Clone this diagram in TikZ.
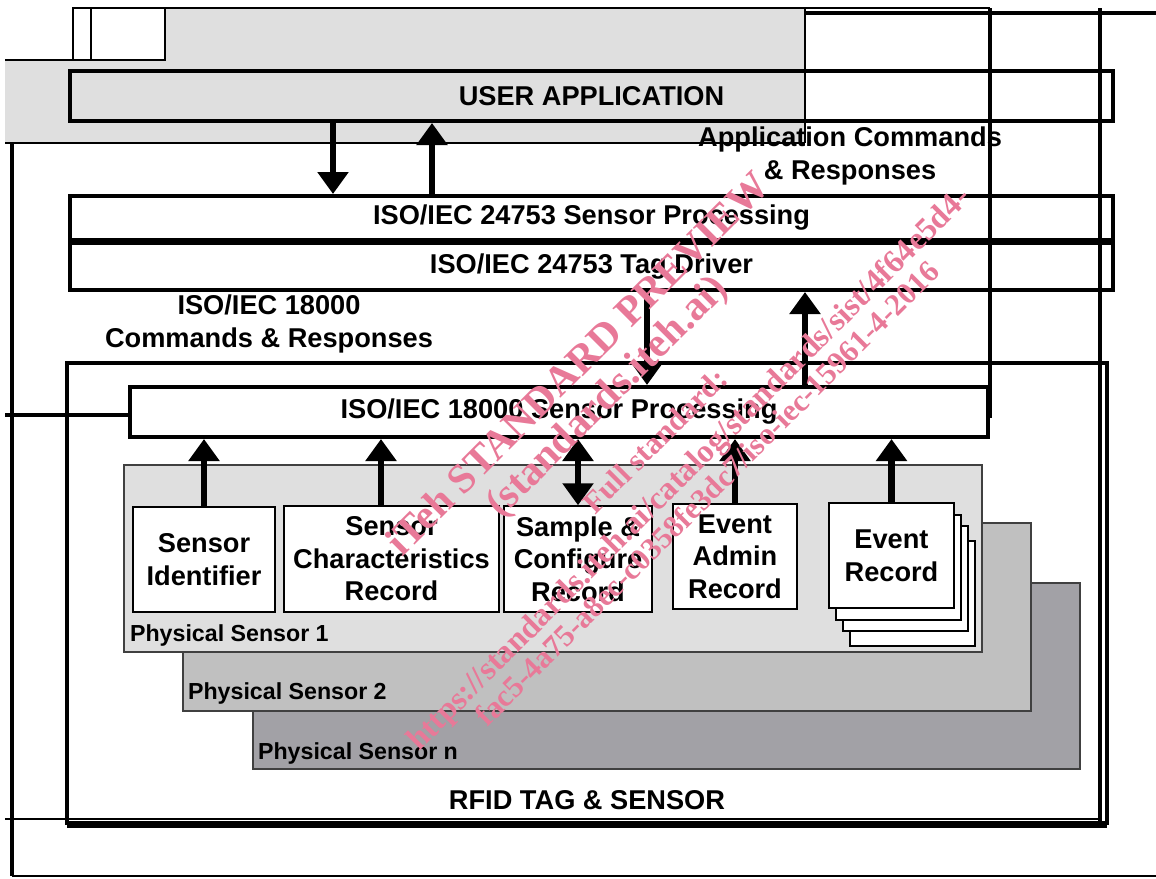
\documentclass[tikz,border=0pt]{standalone}
\usepackage{fontspec}
\setmainfont{Liberation Sans}
\newfontfamily\wmfont{Liberation Serif}
\usetikzlibrary{arrows.meta}

\definecolor{panelA}{RGB}{223,223,223}
\definecolor{panelB}{RGB}{192,192,192}
\definecolor{panelC}{RGB}{162,161,166}
\definecolor{stampred}{RGB}{232,121,152}

\begin{document}
\begin{tikzpicture}[x=0.5pt,y=-0.5pt,
  every node/.style={font=\fontsize{13.6}{16.3}\selectfont\bfseries},
  layer/.style={draw, line width=2pt, fill=white, inner sep=0pt},
  rec/.style={draw, fill=white, line width=0.75pt, inner sep=0pt, align=center},
  panel/.style={draw=black!75, line width=0.7pt},
  tag/.style={anchor=west, font=\fontsize{11.6}{14}\selectfont\bfseries},
  flow/.style={line width=3.3pt, -{Triangle[width=15pt,length=11pt]}},
  both/.style={line width=3.3pt, {Triangle[width=15pt,length=11pt]}-{Triangle[width=15pt,length=11pt]}},
  rule/.style={line width=1.7pt},
  hair/.style={line width=0.6pt},
  stamp/.style={text=stampred, rotate=45, font=\wmfont\bfseries\fontsize{#1}{#1}\selectfont}]
  \useasboundingbox (0,0) rectangle (1156,878);

  % grey backdrop behind the application layer
  \fill[panelA] (73,8) -- (805,8) -- (805,143) -- (5,143) -- (5,60) -- (73,60) -- cycle;
  \draw[hair] (5,60) -- (73,60) (73,8) -- (990,8) (805,8) -- (805,143) (5,143) -- (805,143);
  \draw[hair, fill=white] (73,8) rectangle (91,60) (91,8) rectangle (165,60);

  % tag outline
  \node[draw, line width=2pt, minimum width=520pt, minimum height=230pt, inner sep=0pt] (rfid) at (587,593) {};

  % physical sensors, back to front
  \draw[panel, fill=panelC] (253,583) rectangle (1080,769);
  \draw[panel, fill=panelB] (183,523) rectangle (1031,711);
  \draw[panel, fill=panelA] (124,465) rectangle (982,652);
  \node[tag] (psn) at (251,753) {Physical Sensor n};
  \node[tag] (ps2) at (181,693) {Physical Sensor 2};
  \node[tag] (ps1) at (123,635) {Physical Sensor 1};

  % event record pages
  \foreach \dx/\dy in {21/38,14/23,7/12}
    \draw[hair, fill=white] (829+\dx,503+\dy) rectangle (954+\dx,608+\dy);

  % records
  \node[rec, minimum width=71pt, minimum height=52.5pt] (sid) at (204,559.5) {Sensor\\Identifier};
  \node[rec, minimum width=107.5pt, minimum height=53pt] (sch) at (391.5,559) {Sensor\\Characteristics\\Record};
  \node[rec, minimum width=74pt, minimum height=53pt] (scr) at (578,559) {Sample \&\\Configure\\Record};
  \node[rec, minimum width=62pt, minimum height=52.5pt] (ear) at (735,556.5) {Event\\Admin\\Record};
  \node[rec, minimum width=62.5pt, minimum height=52.5pt] (evr) at (891.5,555.5) {Event\\Record};

  % layers
  \node[layer, fill=none, minimum width=521.5pt, minimum height=25pt] (ua) at (591.5,96) {USER APPLICATION};
  \node[layer, minimum width=521.5pt, minimum height=22pt] (sp24) at (591.5,218) {\raisebox{-1.5pt}{ISO/IEC 24753 Sensor Processing}};
  \node[layer, minimum width=521.5pt, minimum height=23.5pt] (td) at (591.5,266.5) {ISO/IEC 24753 Tag Driver};
  \node[layer, minimum width=429pt, minimum height=25pt] (sp18) at (559,412) {ISO/IEC 18000 Sensor Processing};

  \node[align=center] (acr) at (850,156) {Application Commands\\\& Responses};
  \node[align=center] (icr) at (269,324) {ISO/IEC 18000\\Commands \& Responses};
  \node (rfl) at (587,800) {RFID TAG \& SENSOR};

  % arrows
  \coordinate (p1) at (333,0);
  \coordinate (p2) at (432,0);
  \coordinate (p3) at (647,0);
  \coordinate (p4) at (805,0);
  \coordinate (p5) at (381,0);
  \draw[flow] (ua.south -| p1) -- (sp24.north -| p1);
  \draw[flow] (sp24.north -| p2) -- (ua.south -| p2);
  \draw[flow] (td.south -| p3) -- (sp18.north -| p3);
  \draw[flow] (sp18.north -| p4) -- (td.south -| p4);
  \foreach \n in {sid,ear,evr}
    \draw[flow] (\n.north) -- (\n.north |- sp18.south);
  \draw[flow] (sch.north -| p5) -- (sp18.south -| p5);
  \draw[both] (scr.north) -- (scr.north |- sp18.south);

  % stray rules
  \draw[rule] (12,143) -- (12,876);
  \draw[hair] (12,876) -- (1156,876);
  \draw[rule] (5,415) -- (130,415);
  \draw[rule] (806,13) -- (1156,13);
  \draw[rule] (990,8) -- (990,418);
  \draw[rule] (1100,8) -- (1100,826);
  \draw[hair] (5,819) -- (1100,819);
  \draw[rule] (67,826) -- (1107,826);

  % preview stamp
  \node[stamp=20.7] (w1) at (577,363) {iTeh STANDARD PREVIEW};
  \node[stamp=20.7] (w2) at (608,398) {(standards.iteh.ai)};
  \node[stamp=15.4] (w3) at (655,441) {Full standard:};
  \node[stamp=16.2] (w4) at (690,470) {https://standards.iteh.ai/catalog/standards/sist/4f64e5d4-};
  \node[stamp=15.4] (w5) at (707,493) {fac5-4a75-a8ec-c0358fe3dc7/iso-iec-15961-4-2016};
\end{tikzpicture}
\end{document}
